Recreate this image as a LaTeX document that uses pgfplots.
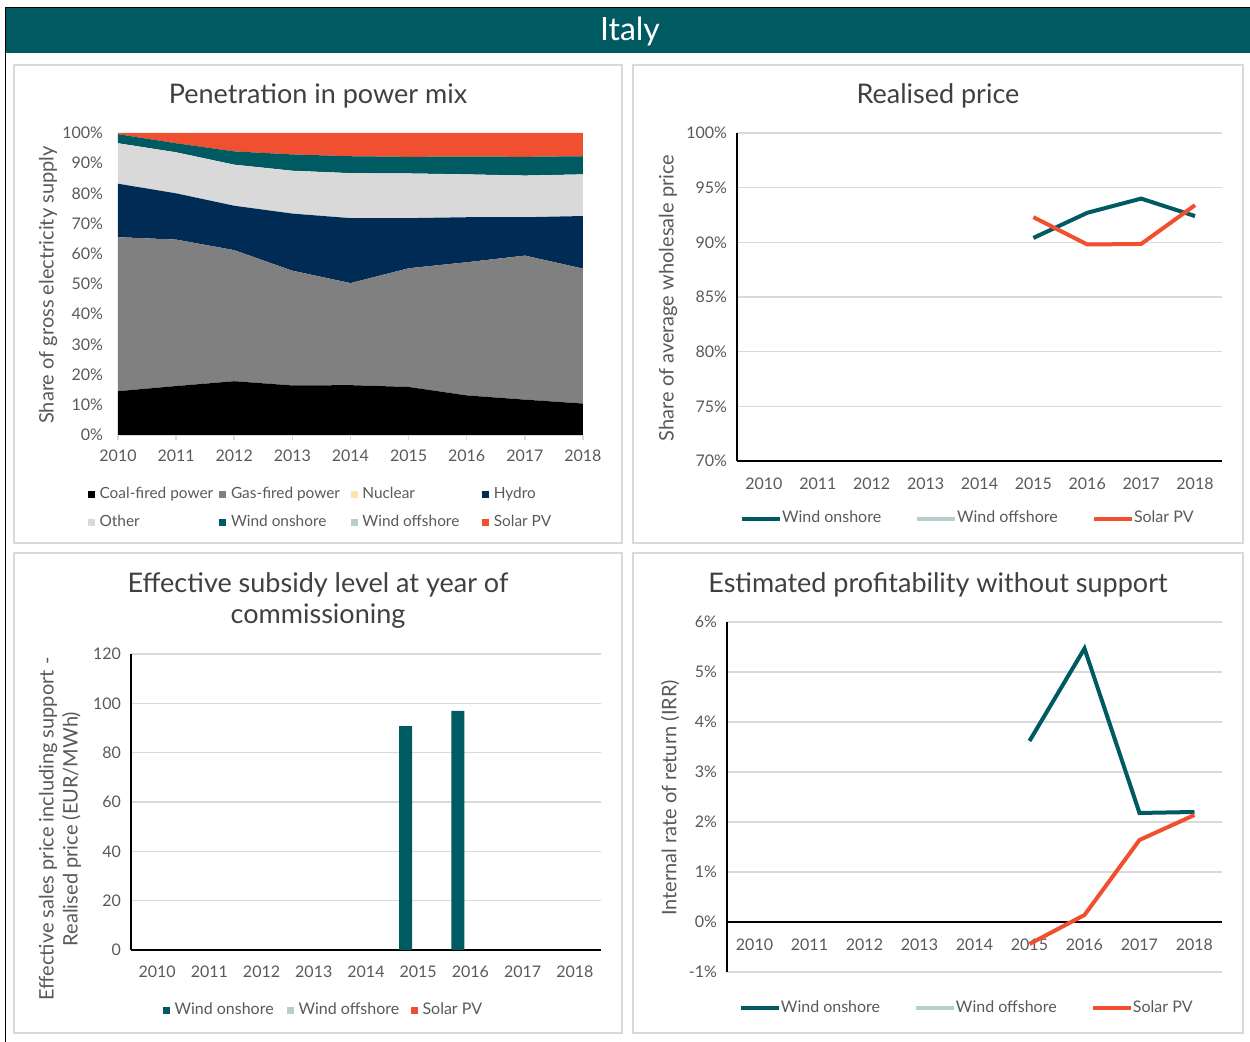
\documentclass[border=0pt]{standalone}
\usepackage{fontspec}
\setmainfont{Lato}
\usepackage{pgfplots}
\pgfplotsset{compat=1.18}

\definecolor{tealc}{HTML}{005A62}
\definecolor{solar}{HTML}{F0502F}
\definecolor{hydro}{HTML}{002B54}
\definecolor{gas}{HTML}{808080}
\definecolor{other}{HTML}{D9D9D9}
\definecolor{offsh}{HTML}{B4CFCE}
\definecolor{nuclear}{HTML}{FFE3A8}
\definecolor{txt}{HTML}{595959}
\definecolor{titlec}{HTML}{404040}
\definecolor{gridc}{HTML}{D9D9D9}
\definecolor{framec}{HTML}{D9D9D9}

\newcommand\lb[2]{\makebox[#1][l]{#2}}

\pgfplotsset{
  base/.style={
    scale only axis, anchor=south west,
    font=\fontsize{8}{9.6}\selectfont,
    tick label style={text=txt},
    /pgf/number format/assume math mode=true,
    /pgf/number format/1000 sep={},
    major tick length=0pt,
    ymajorgrids, grid style={gridc, line width=0.75pt},
    axis line style={black, line width=0.75pt},
    xtick={2010,...,2018},
    yticklabel style={xshift=-1.5pt},
    legend cell align=left,
    legend style={draw=none, fill=none, inner sep=0pt, outer sep=0pt,
      font=\fontsize{8}{9.6}\selectfont, text=txt,
      nodes={inner xsep=0pt, inner ysep=0pt, text height=6pt, text depth=2pt}},
  },
  sqleg/.style={legend image code/.code={\fill[##1, draw=none] (0pt,-1.75pt) rectangle (3.5pt,1.75pt);}},
  lnleg/.style={legend image code/.code={\draw[##1, line width=2pt] (0pt,0pt) -- (19pt,0pt);}},
}

\begin{document}
\begin{tikzpicture}
\begin{scope}[x=0.5pt,y=0.5pt]
\useasboundingbox (0,0) rectangle (1250,1042);
\coordinate (A1) at (118,607);
\coordinate (A2) at (737,581);
\coordinate (A3) at (131,92);
\coordinate (A4) at (727,70);
% header band
\fill[tealc] (5,989) rectangle (1250,1034);
\draw[black, line width=0.5pt] (5,1034.5) -- (1250,1034.5);
\draw[black, line width=0.5pt] (5.5,0) -- (5.5,1034.5);
\node[text=white, font=\fontsize{16}{19}\selectfont] at (630,1011) {Italy};
% panel frames
\draw[framec, line width=0.75pt] (14,499) rectangle (622,977);
\draw[framec, line width=0.75pt] (633,499) rectangle (1243,977);
\draw[framec, line width=0.75pt] (14,9) rectangle (622,489);
\draw[framec, line width=0.75pt] (633,9) rectangle (1243,489);
% titles
\node[text=titlec, font=\fontsize{13.5}{15}\selectfont] at (318,946) {Penetration in power mix};
\node[text=titlec, font=\fontsize{13.5}{15}\selectfont] at (938,946) {Realised price};
\node[text=titlec, font=\fontsize{13.5}{15.5}\selectfont, align=center] at (318,441) {Effective subsidy level at year of\\commissioning};
\node[text=titlec, font=\fontsize{13.5}{15}\selectfont] at (938,457) {Estimated profitability without support};
% y labels
\node[rotate=90, text=txt, font=\fontsize{10}{12}\selectfont] at (48,757) {Share of gross electricity supply};
\node[rotate=90, text=txt, font=\fontsize{10}{12}\selectfont] at (668,744) {Share of average wholesale price};
\node[rotate=90, text=txt, font=\fontsize{10}{12}\selectfont, align=center] at (60,213) {Effective sales price including support -\\Realised price (EUR/MWh)};
\node[rotate=90, text=txt, font=\fontsize{10}{12}\selectfont] at (670,244) {Internal rate of return (IRR)};
\end{scope}

% panel 1: power mix
\begin{axis}[base, at={(A1)}, width=232.5pt, height=151pt,
  xmin=2010, xmax=2018, ymin=0, ymax=100,
  ytick={0,10,...,100}, yticklabel={\pgfmathprintnumber{\tick}\%},
  stack plots=y, ymajorgrids=false,
  axis lines*=left, axis line style={-}, y axis line style={draw=none},
  x axis line style={draw=gridc},
  tick align=outside, major tick length=2.5pt,
  xticklabel style={yshift=-1.5pt},
  xtick style={draw=gridc, line width=0.75pt}, ytick style={draw=none},
  sqleg, legend columns=4,
  legend style={at={(axis description cs:-0.0645,-0.2450)}, anchor=west,
    font=\fontsize{7.7}{9.2}\selectfont,
    /tikz/every odd column/.append style={column sep=2.3pt}, /tikz/row sep=6pt}]
\addplot[fill=black, draw=none] coordinates {(2010,14.5)(2011,16.2)(2012,17.8)(2013,16.4)(2014,16.5)(2015,15.9)(2016,13.1)(2017,11.7)(2018,10.4)} \closedcycle;
\addplot[fill=gas, draw=none] coordinates {(2010,51.0)(2011,48.5)(2012,43.4)(2013,38.0)(2014,33.8)(2015,39.3)(2016,44.1)(2017,47.7)(2018,44.7)} \closedcycle;
\addlegendimage{fill=nuclear}
\addplot[fill=hydro, draw=none] coordinates {(2010,17.7)(2011,15.3)(2012,14.7)(2013,18.9)(2014,21.5)(2015,16.6)(2016,14.9)(2017,12.7)(2018,17.4)} \closedcycle;
\addplot[fill=other, draw=none] coordinates {(2010,13.4)(2011,13.6)(2012,13.6)(2013,14.2)(2014,14.9)(2015,14.8)(2016,14.2)(2017,13.8)(2018,13.8)} \closedcycle;
\addplot[fill=tealc, draw=none] coordinates {(2010,3.0)(2011,3.0)(2012,4.4)(2013,5.4)(2014,5.6)(2015,5.5)(2016,5.9)(2017,6.2)(2018,6.0)} \closedcycle;
\addlegendimage{fill=offsh}
\addplot[fill=solar, draw=none] coordinates {(2010,0.4)(2011,3.4)(2012,6.1)(2013,7.1)(2014,7.7)(2015,7.9)(2016,7.8)(2017,7.9)(2018,7.7)} \closedcycle;
\legend{\lb{59.9pt}{Coal-fired power}, \lb{59.9pt}{Gas-fired power}, \lb{59.9pt}{Nuclear}, Hydro,
        \lb{59.9pt}{Other}, \lb{59.9pt}{Wind onshore}, \lb{59.9pt}{Wind offshore}, Solar PV}
\end{axis}

% panel 2: realised price
\begin{axis}[base, at={(A2)}, width=242.5pt, height=164pt,
  xmin=2009.5, xmax=2018.5, ymin=70, ymax=100,
  ytick={70,75,...,100}, yticklabel={\pgfmathprintnumber{\tick}\%},
  axis lines*=left, axis line style={-},
  xticklabel style={yshift=-5pt},
  lnleg, legend columns=3,
  legend style={at={(axis description cs:0.0062,-0.1768)}, anchor=west,
    /tikz/every odd column/.append style={column sep=0pt}}]
\addplot[tealc, line width=2pt] coordinates {(2015,90.4)(2016,92.7)(2017,94.0)(2018,92.4)};
\addlegendimage{offsh}
\addplot[solar, line width=2pt] coordinates {(2015,92.3)(2016,89.8)(2017,89.85)(2018,93.4)};
\legend{\lb{66.5pt}{Wind onshore}, \lb{67.5pt}{Wind offshore}, Solar PV}
\end{axis}

% panel 3: subsidy level
\begin{axis}[base, at={(A3)}, width=235pt, height=148pt,
  xmin=2009.5, xmax=2018.5, ymin=0, ymax=120,
  ytick={0,20,...,120},
  axis lines*=left, axis line style={-},
  xticklabel style={yshift=-4.5pt},
  sqleg, legend columns=3,
  legend style={at={(axis description cs:0.068,-0.2028)}, anchor=west,
    /tikz/every odd column/.append style={column sep=2.3pt}}]
\addplot[ybar, bar width=6.5pt, bar shift=-6.25pt, fill=tealc, draw=none, sqleg] coordinates {(2015,90.8)(2016,96.9)};
\addlegendimage{fill=offsh}
\addlegendimage{fill=solar}
\legend{\lb{56.2pt}{Wind onshore}, \lb{56.2pt}{Wind offshore}, Solar PV}
\end{axis}

% panel 4: IRR
\begin{axis}[base, at={(A4)}, width=247.5pt, height=175pt,
  xmin=2009.5, xmax=2018.5, ymin=-1, ymax=6,
  ytick={-1,0,...,6}, yticklabel={\pgfmathprintnumber{\tick}\%},
  axis x line=middle, axis y line=left, axis line style={-},
  hide obscured y ticks=false,
  xticklabel style={yshift=-5pt},
  lnleg, legend columns=3,
  legend style={at={(axis description cs:0.0242,-0.1029)}, anchor=west,
    /tikz/every odd column/.append style={column sep=0pt}}]
\addplot[tealc, line width=2pt] coordinates {(2015,3.62)(2016,5.47)(2017,2.18)(2018,2.20)};
\addlegendimage{offsh}
\addplot[solar, line width=2pt] coordinates {(2015,-0.44)(2016,0.14)(2017,1.64)(2018,2.14)};
\legend{\lb{66.5pt}{Wind onshore}, \lb{67.5pt}{Wind offshore}, Solar PV}
\end{axis}
\end{tikzpicture}
\end{document}
